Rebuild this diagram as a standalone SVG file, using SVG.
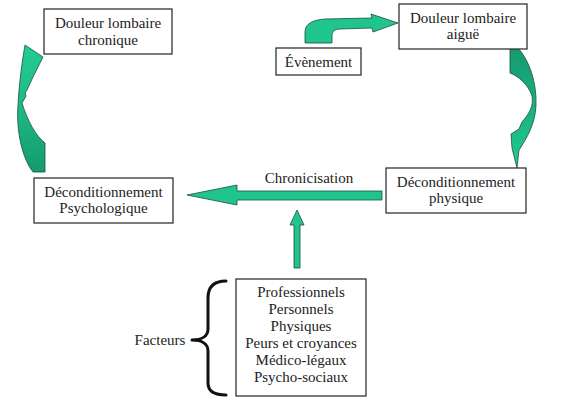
<svg xmlns="http://www.w3.org/2000/svg" width="562" height="402" viewBox="0 0 562 402" font-family="'Liberation Serif', 'Times New Roman', Tinos, 'DejaVu Serif', serif">
<defs>
<style>
.box{fill:#fff;stroke:#333;stroke-width:1.3}
.t{font-family:'Liberation Serif', 'Times New Roman', Tinos, 'DejaVu Serif', serif;font-size:15px;fill:#222;text-anchor:middle}
.arr{fill:#1fc48e;stroke:#1d4f3f;stroke-width:0.8;stroke-linejoin:round}
.carr{stroke:#1d4f3f;stroke-width:0.8;stroke-linejoin:round}
.brace{fill:none;stroke:#111;stroke-width:3;stroke-linecap:round;stroke-linejoin:round}
</style>
<linearGradient id="gL" x1="0" y1="0" x2="0" y2="1">
<stop offset="0" stop-color="#22cc95"/>
<stop offset="0.45" stop-color="#1dbb87"/>
<stop offset="1" stop-color="#149a6f"/>
</linearGradient>
<linearGradient id="gR" x1="0" y1="0" x2="0" y2="1">
<stop offset="0" stop-color="#159a70"/>
<stop offset="0.5" stop-color="#1bb07f"/>
<stop offset="1" stop-color="#22cc95"/>
</linearGradient>
</defs>

<g id="connectors">
<path class="carr" fill="url(#gL)" d="M25,45 L43,57 L33,77 L27,90 L25,93 L26,96 L22,103 C28,122 36,136 45,143 L45,172 L33,172 C22,158 16,130 18,105 C19,85 22,62 25,45 Z"/>
<path class="carr" fill="url(#gR)" d="M510,48 L518,48 C529,60 537,82 536,106 C535,124 527,138 519,150 L517,168 L512,148 L511,134 L519,129 L522,122 C529,114 534,106 532,96 C528,84 518,76 510,73 Z"/>
<path class="arr" d="M305,43 L305,32 C305,24 312,20 325,19 L372,18 L371,14 L398,23 L373,32 L372,28 L340,29 C334,29 332,32 332,36 L332,43 Z"/>
<path class="arr" d="M382,191 L237,191 L237,185 L187,195 L237,205 L237,200 L382,200 Z"/>
<path class="arr" d="M294,268 L294,225 L290,225 L297,210 L304,225 L300,225 L300,268 Z"/>
<path class="brace" d="M226,281 C214,281 208,287 208,298 L208,329 C208,336 202,340 192,340 C202,340 208,344 208,351 L208,383 C208,391 214,395 226,395"/>
</g>

<g id="n-chronique">
<rect class="box" x="44" y="9" width="128" height="45"/>
<text class="t" x="108" y="28">Douleur lombaire</text>
<text class="t" x="108" y="45">chronique</text>
</g>

<g id="n-aigue">
<rect class="box" x="399" y="4" width="128" height="45"/>
<text class="t" x="463" y="23">Douleur lombaire</text>
<text class="t" x="463" y="39">aiguë</text>
</g>

<g id="n-evenement">
<rect class="box" x="276" y="48" width="85" height="27"/>
<text class="t" x="318.5" y="67">Évènement</text>
</g>

<g id="n-psycho">
<rect class="box" x="34" y="178" width="139" height="45"/>
<text class="t" x="103.5" y="197">Déconditionnement</text>
<text class="t" x="103.5" y="213">Psychologique</text>
</g>

<g id="n-physique">
<rect class="box" x="386" y="168" width="140" height="45"/>
<text class="t" x="456" y="187">Déconditionnement</text>
<text class="t" x="456" y="203">physique</text>
</g>

<g id="n-chronicisation">
<text class="t" x="309" y="183">Chronicisation</text>
</g>

<g id="n-facteurs">
<rect class="box" x="236" y="279" width="130" height="117"/>
<text class="t" x="301" y="297">Professionnels</text>
<text class="t" x="301" y="314">Personnels</text>
<text class="t" x="301" y="331">Physiques</text>
<text class="t" x="301" y="348">Peurs et croyances</text>
<text class="t" x="301" y="365">Médico-légaux</text>
<text class="t" x="301" y="382">Psycho-sociaux</text>
</g>

<g id="n-facteurs-label">
<text class="t" x="160" y="345">Facteurs</text>
</g>
</svg>
